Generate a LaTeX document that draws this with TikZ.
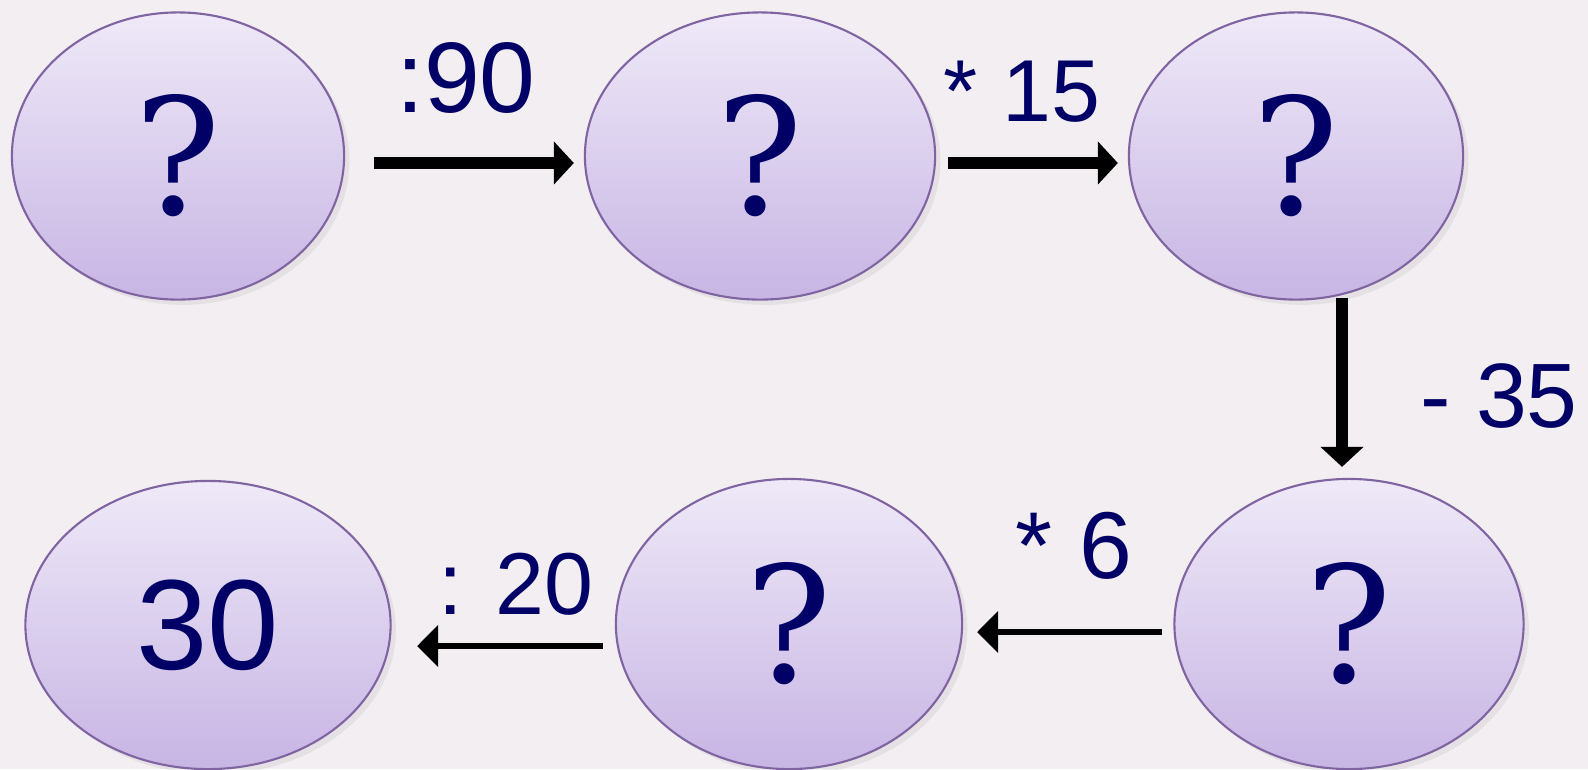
\documentclass[tikz,border=0pt]{standalone}
\usepackage{fontspec}
\setmainfont{Liberation Sans}
\newfontfamily\qfont{DejaVu Serif}
\usetikzlibrary{arrows.meta,shadows,shapes.geometric}
\definecolor{paper}{RGB}{242,238,242}
\definecolor{bubbletop}{RGB}{239,233,248}
\definecolor{bubblebot}{RGB}{199,181,228}
\definecolor{bubbleline}{RGB}{128,100,162}
\definecolor{navy}{RGB}{0,0,102}
\tikzset{
  bubble/.style={ellipse,draw=bubbleline,line width=0.6pt,top color=bubbletop,bottom color=bubblebot,
    minimum height=2.87cm,inner sep=0pt,text=navy,
    drop shadow={opacity=0.12,shadow xshift=1.5pt,shadow yshift=-1.5pt}},
  qmark/.style={font=\qfont\fontsize{46}{55}\selectfont},
  oplabel/.style={text=navy,inner sep=0pt},
  thickarrow/.style={line width=0.12cm,-{Triangle[length=0.2cm,width=0.42cm]}},
  thinarrow/.style={line width=0.06cm,-{Triangle[length=0.21cm,width=0.41cm]}}
}
\begin{document}
\begin{tikzpicture}[x=0.01cm,y=-0.01cm]
    % Latar
    \fill[paper] (0,0) rectangle (1588,769);
    \useasboundingbox (0,0) rectangle (1588,769);

    % Elips baris atas
    \node[bubble,qmark,minimum width=3.32cm] (q1) at (178,156) {?};
    \node[bubble,qmark,minimum width=3.50cm] (q2) at (760,156) {?};
    \node[bubble,qmark,minimum width=3.34cm] (q3) at (1296,156) {?};

    % Elips baris bawah
    \node[bubble,qmark,minimum width=3.49cm,minimum height=2.90cm] (q4) at (1349,624) {?};
    \node[bubble,qmark,minimum width=3.46cm,minimum height=2.90cm] (q5) at (789,624) {?};
    \node[bubble,minimum width=3.65cm,minimum height=2.88cm,font=\fontsize{36.5}{44}\selectfont] (res) at (208,625) {30};

    % Panah
    \draw[thickarrow] ([xshift=0.29cm,yshift=-0.07cm]q1.east) -- ([xshift=-0.1cm,yshift=-0.07cm]q2.west);
    \draw[thickarrow] ([xshift=0.12cm,yshift=-0.07cm]q2.east) -- ([xshift=-0.1cm,yshift=-0.07cm]q3.west);
    \draw[thickarrow] ([xshift=-0.07cm,yshift=0.03cm]q3.south -| q4.north) -- ([xshift=-0.07cm,yshift=0.11cm]q4.north);
    \draw[thinarrow] ([xshift=-0.115cm,yshift=-0.08cm]q4.west) -- ([xshift=0.14cm,yshift=-0.08cm]q5.east);
    \draw[thinarrow] ([xshift=-0.12cm,yshift=-0.22cm]q5.west) -- ([xshift=0.255cm,yshift=-0.21cm]res.east);

    % Label operasi
    \node[oplabel,font=\fontsize{28.5}{34}\selectfont] (op1) at (466,78) {:90};
    \node[oplabel,font=\fontsize{25}{30}\selectfont] (op2) at (1022,92) {* 15};
    \node[oplabel,font=\fontsize{26}{31}\selectfont] (op3) at (1499,396) {- 35};
    \node[oplabel,font=\fontsize{27}{32}\selectfont] (op4) at (1074,546) {* 6};
    \node[oplabel,font=\fontsize{25}{30}\selectfont] (op5) at (516,584) {: 20};
\end{tikzpicture}
\end{document}
